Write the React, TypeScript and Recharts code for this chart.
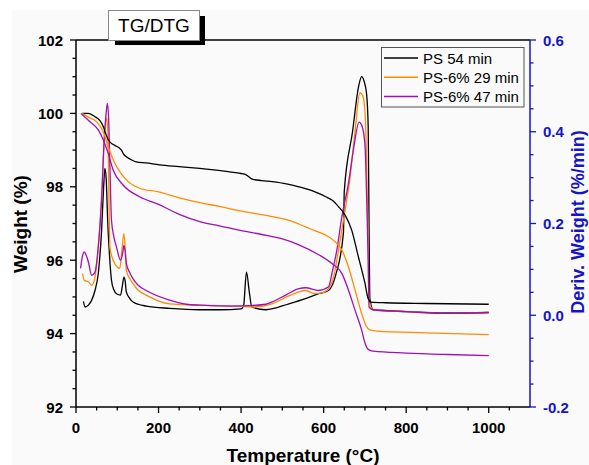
import { LineChart, Line, XAxis, YAxis, ReferenceLine } from "recharts";

/* TG: temperature (°C) -> weight (%) */
const psTgT = [15, 30, 46, 58, 66, 72, 78, 86, 94, 110, 116, 122, 135, 146, 170, 202, 250, 300, 350, 395, 410, 418, 427, 450, 475, 510, 540, 570, 588, 605, 620, 636, 652, 668, 684, 700, 708, 715, 750, 850, 1000];
const psTgW = [100.0, 100.0, 99.91, 99.8, 99.64, 99.45, 99.28, 99.18, 99.13, 99.0, 98.88, 98.82, 98.73, 98.68, 98.65, 98.6, 98.55, 98.5, 98.44, 98.37, 98.34, 98.28, 98.21, 98.17, 98.14, 98.08, 98.0, 97.9, 97.82, 97.73, 97.64, 97.46, 97.23, 96.82, 96.1, 95.38, 94.95, 94.86, 94.84, 94.82, 94.8];

const p29TgT = [15, 30, 50, 66, 78, 94, 108, 122, 154, 200, 250, 300, 350, 395, 475, 520, 556, 580, 604, 628, 644, 660, 676, 692, 704, 712, 730, 850, 1000];
const p29TgW = [100.0, 99.9, 99.77, 99.5, 99.09, 98.64, 98.38, 98.19, 97.96, 97.86, 97.7, 97.57, 97.46, 97.35, 97.19, 97.07, 96.91, 96.8, 96.69, 96.5, 96.28, 95.82, 95.19, 94.55, 94.19, 94.1, 94.07, 94.02, 93.97];

const p47TgT = [12, 34, 54, 66, 78, 90, 114, 154, 200, 250, 300, 350, 395, 450, 500, 540, 588, 620, 644, 660, 676, 692, 700, 708, 720, 800, 900, 1000];
const p47TgW = [100.0, 99.77, 99.55, 99.28, 98.91, 98.46, 98.05, 97.73, 97.52, 97.25, 97.05, 96.93, 96.82, 96.7, 96.58, 96.42, 96.15, 95.91, 95.64, 95.19, 94.64, 94.1, 93.75, 93.57, 93.52, 93.47, 93.43, 93.4];

/* DTG: temperature (°C) -> deriv. weight (%/min) */
const psDtgT = [18, 22, 30, 38, 46, 54, 62, 67, 70, 73, 77, 80, 86, 92, 98, 108, 112, 116, 119, 122, 130, 138, 170, 227, 300, 350, 400, 406, 413, 420, 426, 460, 516, 556, 588, 612, 630, 648, 650, 670, 685, 692, 698, 704, 708, 710, 712, 720, 800, 900, 1000];
const psDtgD = [0.03, 0.018, 0.022, 0.033, 0.054, 0.091, 0.185, 0.28, 0.32, 0.3, 0.2, 0.149, 0.076, 0.055, 0.047, 0.044, 0.062, 0.083, 0.075, 0.051, 0.037, 0.029, 0.02, 0.015, 0.012, 0.012, 0.014, 0.02, 0.094, 0.05, 0.018, 0.012, 0.025, 0.036, 0.047, 0.054, 0.09, 0.18, 0.27, 0.4, 0.5, 0.52, 0.51, 0.483, 0.41, 0.2, 0.037, 0.012, 0.008, 0.005, 0.006];

const p29DtgT = [16, 20, 30, 38, 46, 54, 62, 68, 74, 77, 80, 82, 90, 100, 106, 111, 116, 119, 122, 130, 138, 150, 170, 227, 300, 400, 427, 475, 510, 540, 556, 580, 600, 612, 624, 636, 652, 664, 676, 688, 694, 700, 704, 707, 710, 720, 800, 900, 1000];
const p29DtgD = [0.091, 0.076, 0.073, 0.065, 0.083, 0.149, 0.26, 0.37, 0.43, 0.4, 0.25, 0.149, 0.12, 0.105, 0.102, 0.14, 0.178, 0.15, 0.098, 0.08, 0.069, 0.055, 0.044, 0.025, 0.022, 0.02, 0.018, 0.025, 0.04, 0.051, 0.054, 0.047, 0.05, 0.058, 0.083, 0.142, 0.229, 0.3, 0.4, 0.485, 0.48, 0.447, 0.338, 0.192, 0.033, 0.012, 0.008, 0.004, 0.006];

const p47DtgT = [11, 16, 20, 25, 30, 38, 46, 54, 62, 68, 73, 76, 79, 82, 86, 92, 98, 108, 113, 116, 119, 122, 130, 138, 150, 170, 227, 267, 300, 379, 420, 460, 475, 510, 540, 556, 588, 612, 620, 632, 644, 660, 672, 686, 692, 700, 704, 708, 710, 720, 800, 900, 1000];
const p47DtgD = [0.102, 0.13, 0.138, 0.13, 0.116, 0.087, 0.094, 0.149, 0.25, 0.38, 0.44, 0.462, 0.43, 0.33, 0.207, 0.17, 0.149, 0.12, 0.135, 0.152, 0.14, 0.113, 0.093, 0.08, 0.066, 0.054, 0.033, 0.024, 0.022, 0.02, 0.021, 0.024, 0.029, 0.045, 0.058, 0.06, 0.054, 0.062, 0.091, 0.142, 0.214, 0.287, 0.36, 0.421, 0.415, 0.374, 0.265, 0.12, 0.018, 0.012, 0.008, 0.004, 0.006];

/* ticks */
const xMajor = [0, 200, 400, 600, 800, 1000];
const xMinor = [50, 100, 150, 250, 300, 350, 450, 500, 550, 650, 700, 750, 850, 900, 950, 1050];
const leftMajor = [92, 94, 96, 98, 100, 102];
const leftMinor = [92.5, 93, 93.5, 94.5, 95, 95.5, 96.5, 97, 97.5, 98.5, 99, 99.5, 100.5, 101, 101.5];
const rightMajor = [-0.2, 0, 0.2, 0.4, 0.6];
const rightMinor = [-0.15, -0.1, -0.05, 0.05, 0.1, 0.15, 0.25, 0.3, 0.35, 0.45, 0.5, 0.55];

const series = [
  { name: "PS 54 min", color: "#000000" },
  { name: "PS-6% 29 min", color: "#ff8c00" },
  { name: "PS-6% 47 min", color: "#a010b4" },
];

const zip = (t: number[], v: number[]) => t.map((x, i) => ({ t: x, v: v[i] }));

const FONT = "'Liberation Sans', Arial, sans-serif";
const BLUE = "#1414c8";

const isIn = (arr: number[], v: number) => arr.some(a => Math.abs(a - v) < 1e-6);

function XTick(p: any) {
  const { x, y, payload } = p;
  const major = isIn(xMajor, payload.value);
  return (
    <g>
      <line x1={x} y1={y} x2={x} y2={y + (major ? 6 : 3.5)} stroke="#000" strokeWidth={1.3} />
      {major && (
        <text x={x} y={y + 26} textAnchor="middle" fontSize={15} fontWeight="bold" fontFamily={FONT} fill="#000">
          {payload.value}
        </text>
      )}
    </g>
  );
}

function LTick(p: any) {
  const { x, y, payload } = p;
  const major = isIn(leftMajor, payload.value);
  return (
    <g>
      <line x1={x - (major ? 6 : 3.5)} y1={y} x2={x} y2={y} stroke="#000" strokeWidth={1.3} />
      {major && (
        <text x={x - 13} y={y + 5.5} textAnchor="end" fontSize={15} fontWeight="bold" fontFamily={FONT} fill="#000">
          {payload.value}
        </text>
      )}
    </g>
  );
}

function RTick(p: any) {
  const { x, y, payload } = p;
  const major = isIn(rightMajor, payload.value);
  return (
    <g>
      <line x1={x} y1={y} x2={x + (major ? 6 : 3.5)} y2={y} stroke={BLUE} strokeWidth={1.3} />
      {major && (
        <text x={x + 13} y={y + 5.5} textAnchor="start" fontSize={15} fontWeight="bold" fontFamily={FONT} fill={BLUE}>
          {payload.value.toFixed(1)}
        </text>
      )}
    </g>
  );
}

export default function App() {
  const tg = [zip(psTgT, psTgW), zip(p29TgT, p29TgW), zip(p47TgT, p47TgW)];
  const dtg = [zip(psDtgT, psDtgD), zip(p29DtgT, p29DtgD), zip(p47DtgT, p47DtgD)];

  return (
    <div style={{ position: "absolute", left: 0, top: 0, width: 589, height: 465, background: "#fff" }}>
      <div style={{ position: "absolute", left: 12, top: 10, right: 0, bottom: 0, background: "#fafafa" }} />
      <div style={{ position: "absolute", left: 0, top: 0 }}>
        <LineChart width={589} height={465} margin={{ top: 40, right: 0, bottom: 0, left: 0 }}>
          <XAxis
            type="number"
            dataKey="t"
            domain={[0, 1100]}
            ticks={[...xMajor, ...xMinor].sort((a, b) => a - b)}
            interval={0}
            tick={XTick}
            tickLine={false}
            tickSize={0}
            tickMargin={0}
            height={58}
            axisLine={{ stroke: "#000", strokeWidth: 1.5 }}
          />
          <YAxis
            yAxisId="left"
            type="number"
            domain={[92, 102]}
            ticks={[...leftMajor, ...leftMinor].sort((a, b) => a - b)}
            interval={0}
            tick={LTick}
            tickLine={false}
            tickSize={0}
            tickMargin={0}
            width={76}
            axisLine={{ stroke: "#000", strokeWidth: 1.5 }}
          />
          <YAxis
            yAxisId="right"
            orientation="right"
            type="number"
            domain={[-0.2, 0.6]}
            ticks={[...rightMajor, ...rightMinor].sort((a, b) => a - b)}
            interval={0}
            tick={RTick}
            tickLine={false}
            tickSize={0}
            tickMargin={0}
            width={59}
            axisLine={{ stroke: BLUE, strokeWidth: 1.5 }}
          />
          <ReferenceLine yAxisId="left" y={102} stroke="#000" strokeWidth={1.5} />
          {dtg.map((d, i) => (
            <Line
              key={"dtg" + i}
              yAxisId="right"
              data={d}
              dataKey="v"
              type="monotone"
              stroke={series[i].color}
              strokeWidth={1.3}
              dot={false}
              isAnimationActive={false}
            />
          ))}
          {tg.map((d, i) => (
            <Line
              key={"tg" + i}
              yAxisId="left"
              data={d}
              dataKey="v"
              type="monotone"
              stroke={series[i].color}
              strokeWidth={1.3}
              dot={false}
              isAnimationActive={false}
            />
          ))}
        </LineChart>
      </div>
      <svg width={589} height={465} style={{ position: "absolute", left: 0, top: 0, pointerEvents: "none" }}>
        {/* title box */}
        <rect x={115} y={16} width={90} height={29} fill="#000" />
        <rect x={108.5} y={10.5} width={91} height={30} fill="#fff" stroke="#888" />
        <text x={154} y={32} textAnchor="middle" fontSize={19} fontFamily={FONT} fill="#000">TG/DTG</text>

        {/* legend */}
        <rect x={381.5} y={47.5} width={142.5} height={59.5} fill="none" stroke="#555" />
        {series.map((s, i) => (
          <g key={s.name}>
            <line x1={384} y1={58 + i * 19.3} x2={418} y2={58 + i * 19.3} stroke={s.color} strokeWidth={1.5} />
            <text x={423} y={63.5 + i * 19.3} fontSize={15} fontFamily={FONT} fill="#000">{s.name}</text>
          </g>
        ))}

        {/* axis titles */}
        <text x={303} y={462} textAnchor="middle" fontSize={19} fontWeight="bold" fontFamily={FONT} fill="#000">
          Temperature (°C)
        </text>
        <text transform="translate(27,224) rotate(-90)" textAnchor="middle" fontSize={19} fontWeight="bold" fontFamily={FONT} fill="#000">
          Weight (%)
        </text>
        <text transform="translate(584,222) rotate(-90)" textAnchor="middle" fontSize={18} fontWeight="bold" fontFamily={FONT} fill={BLUE}>
          Deriv. Weight (%/min)
        </text>
      </svg>
    </div>
  );
}
